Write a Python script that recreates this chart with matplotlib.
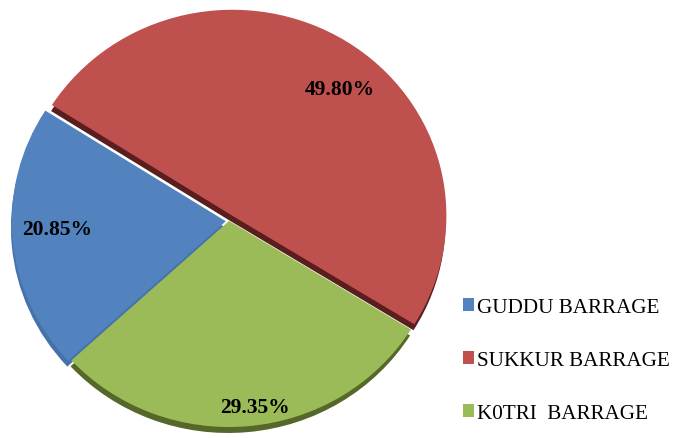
import matplotlib
matplotlib.use('Agg')
import matplotlib.pyplot as plt
from matplotlib.patches import Patch

# data
labels = ['GUDDU BARRAGE', 'SUKKUR BARRAGE', 'K0TRI  BARRAGE']
shares = [20.85, 49.80, 29.35]
pct_text = ['20.85%', '49.80%', '29.35%']

top_colors = ['#5383BF', '#BE514E', '#9BBB59']
side_colors = ['#4672AC', '#5A1E1E', '#56672A']
explode = [0.015, 0.03, 0.0]

plt.rcParams['font.family'] = ['Liberation Serif', 'DejaVu Serif']

fig = plt.figure(figsize=(6.76, 4.39), dpi=100)
ax = fig.add_axes([0, 0, 1, 1])

# pie is a bit flattened (3d tilt): separate x / y pixel scales
Rx, Ry = 214.0, 206.0
cx, cy = 229, 222  # pixel position of pie centre

start = 147.5 + 360 * shares[0] / 100

# side of the slices (fake 3d thickness)
ax.pie(shares, colors=side_colors, explode=explode, startangle=start,
       counterclock=False, center=(-0.004, -0.029), radius=1.0,
       wedgeprops=dict(linewidth=0))
wedges, _ = ax.pie(shares, colors=top_colors, explode=explode, startangle=start,
                   counterclock=False, radius=1.0,
                   wedgeprops=dict(linewidth=0))
ax.set_aspect('auto')
ax.set_xlim(-cx / Rx, (676 - cx) / Rx)
ax.set_ylim(-(439 - cy) / Ry, cy / Ry)
ax.axis('off')

# percentage labels
lab_pos = [(-0.804, -0.039), (0.519, 0.641), (0.121, -0.903)]
for t, (x, y) in zip(pct_text, lab_pos):
    ax.text(x, y, t, ha='center', va='center', fontsize=15.5,
            fontweight='bold', color='black')

handles = [Patch(facecolor=c, edgecolor='none') for c in top_colors]
fig.legend(handles, labels, loc='upper left', bbox_to_anchor=(0.672, 0.338),
           frameon=False, fontsize=15.2, handlelength=0.55, handleheight=0.55,
           handletextpad=0.12, labelspacing=1.6, borderaxespad=0)

fig.savefig('out.png', dpi=100)
